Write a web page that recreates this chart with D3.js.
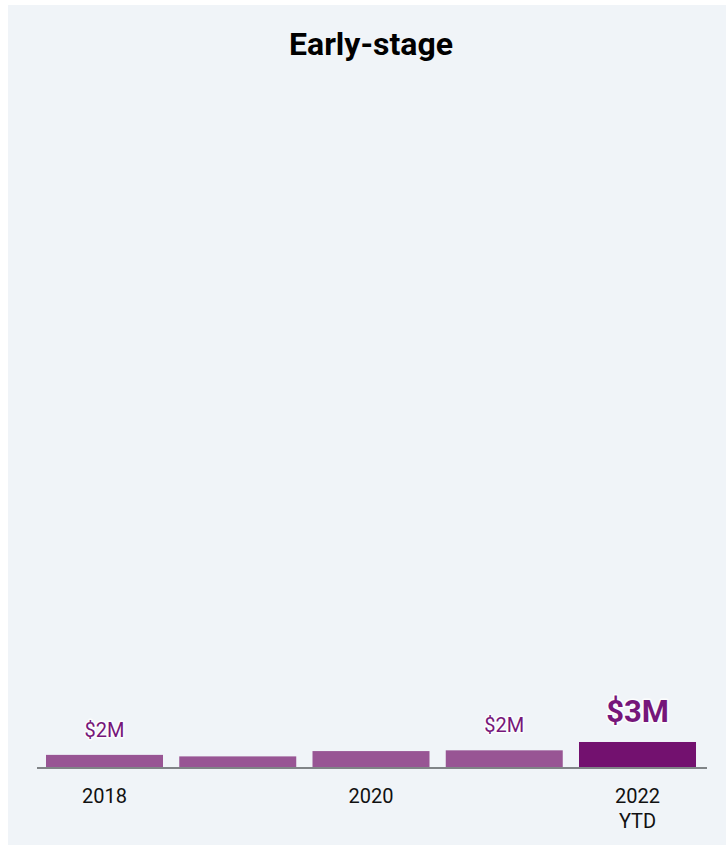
<!DOCTYPE html>
<html><head><meta charset="utf-8">
<script src="https://cdn.jsdelivr.net/npm/d3@7"></script>
<style>
html,body{margin:0;padding:0;background:#fff;}
svg{display:block;font-family:Roboto, "Liberation Sans", sans-serif;}
</style></head>
<body><svg id="c" width="726" height="845"></svg>
<script>
const categories = ["2018", "2019", "2020", "2021", "2022 YTD"];
const tickLabels = [["2018"], [], ["2020"], [], ["2022", "YTD"]];
const values = [1.6, 1.4, 2.1, 2.2, 3.3];
const valueLabels = ["$2M", "", "", "$2M", "$3M"];
const title = "Early-stage";

const svg = d3.select("#c");
svg.append("rect").attr("x", 8).attr("y", 5).attr("width", 718).attr("height", 840).attr("fill", "#f0f4f8");

svg.append("text").attr("x", 371).attr("y", 55).attr("text-anchor", "middle")
  .attr("font-size", 32).attr("font-weight", 700).attr("fill", "#000").text(title);

const x = d3.scaleBand().domain(categories).range([37, 705]).paddingInner(0.122).paddingOuter(0.0675);
const y = d3.scaleLinear().domain([0, 90]).range([767, 85]);

const last = categories.length - 1;
svg.append("g").selectAll("rect").data(values).join("rect")
  .attr("x", (d, i) => x(categories[i]))
  .attr("width", x.bandwidth())
  .attr("y", d => y(d))
  .attr("height", d => y(0) - y(d))
  .attr("fill", (d, i) => i === last ? "#73116f" : "#985594");

// axis baseline
const axis = svg.append("g").attr("transform", `translate(0,${y(0)})`)
  .call(d3.axisBottom(x).tickSize(0).tickFormat(""));
axis.select(".domain").attr("stroke", "#808487").attr("stroke-width", 2)
  .attr("d", `M37,1H707`);

// tick labels
const tl = svg.append("g").selectAll("text").data(tickLabels).join("text")
  .attr("x", (d, i) => x(categories[i]) + x.bandwidth() / 2)
  .attr("y", 803).attr("text-anchor", "middle").attr("font-size", 20).attr("fill", "#111");
tl.each(function(lines) {
  const t = d3.select(this);
  lines.forEach((l, j) => t.append("tspan").attr("x", t.attr("x")).attr("dy", j === 0 ? 0 : 25).text(l));
});

// value labels
svg.append("g").selectAll("text").data(values).join("text")
  .attr("x", (d, i) => x(categories[i]) + x.bandwidth() / 2)
  .attr("y", (d, i) => i === last ? y(d) - 20 : y(d) - 18)
  .attr("text-anchor", "middle")
  .attr("font-size", (d, i) => i === last ? 31 : 20)
  .attr("font-weight", (d, i) => i === last ? 700 : 400)
  .attr("fill", "#76167a")
  .attr("stroke", "#ffffff").attr("stroke-width", 3).attr("stroke-opacity", 0.8)
  .attr("paint-order", "stroke").attr("stroke-linejoin", "round")
  .text((d, i) => valueLabels[i]);
</script></body></html>
